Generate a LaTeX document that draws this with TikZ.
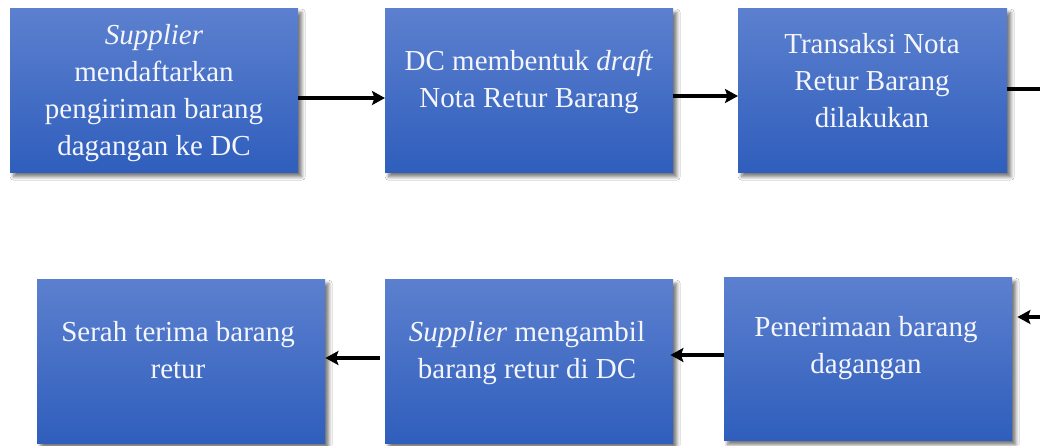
\documentclass[tikz,border=0pt]{standalone}
\usepackage{fontspec}
\setmainfont{Liberation Serif}
\usetikzlibrary{arrows.meta,shadows.blur}
\definecolor{boxtop}{RGB}{92,128,207}
\definecolor{boxbot}{RGB}{47,94,188}
\definecolor{txt}{RGB}{244,246,252}
\begin{document}
\begin{tikzpicture}[x=1pt,y=-1pt,
  box/.style={rectangle, draw=none, inner sep=0pt, anchor=north west,
    top color=boxtop, bottom color=boxbot,
    blur shadow={shadow xshift=3.5pt, shadow yshift=-4.5pt, shadow blur radius=3.5pt, shadow blur steps=8, shadow opacity=55}},
  lbl/.style={text=txt, font=\fontsize{29}{37}\selectfont, align=center, anchor=base, inner sep=0pt},
  arr/.style={line width=3.6pt, -{Stealth[length=13pt,width=14pt,inset=2.5pt]}},
  ln/.style={line width=3.6pt}]
\clip (0,0) rectangle (1040,445);
\fill[white] (0,0) rectangle (1040,445);
% boxes
\node[box, minimum width=288pt, minimum height=164pt] (b1) at (10,8) {};
\node[box, minimum width=288pt, minimum height=164pt] (b2) at (385,8) {};
\node[box, minimum width=269pt, minimum height=164pt] (b3) at (738,8) {};
\node[box, minimum width=288pt, minimum height=164pt] (b4) at (37,279) {};
\node[box, minimum width=288pt, minimum height=164pt] (b5) at (385,279) {};
\node[box, minimum width=288pt, minimum height=163pt] (b6) at (724,277) {};
% labels (anchor base = last line)
\node[lbl] (t1) at (154,155) {\textit{Supplier}\\mendaftarkan\\pengiriman barang\\dagangan ke DC};
\node[lbl] (t2) at (529,107) {DC membentuk \textit{draft}\\Nota Retur Barang};
\node[lbl] (t3) at (872,127) {Transaksi Nota\\Retur Barang\\dilakukan};
\node[lbl] (t4) at (178,378) {Serah terima barang\\retur};
\node[lbl] (t5) at (527,378) {\textit{Supplier} mengambil\\barang retur di DC};
\node[lbl] (t6) at (866,373) {Penerimaan barang\\dagangan};
% connectors
\coordinate (outR) at (1041,89);
\coordinate (inR) at (1041,317);
\draw[arr] (b1.east |- 0,98) -- (b2.west |- 0,98);
\draw[arr] (b2.east |- 0,96) -- (b3.west |- 0,96);
\draw[ln] (b3.east |- outR) -- (outR);
\draw[arr] (inR) -- ([xshift=5pt]b6.east |- inR);
\draw[arr] (b6.west |- 0,355) -- ([xshift=-3pt]b5.east |- 0,355);
\draw[arr] ([xshift=-5pt]b5.west |- 0,358) -- (b4.east |- 0,358);
\end{tikzpicture}
\end{document}
